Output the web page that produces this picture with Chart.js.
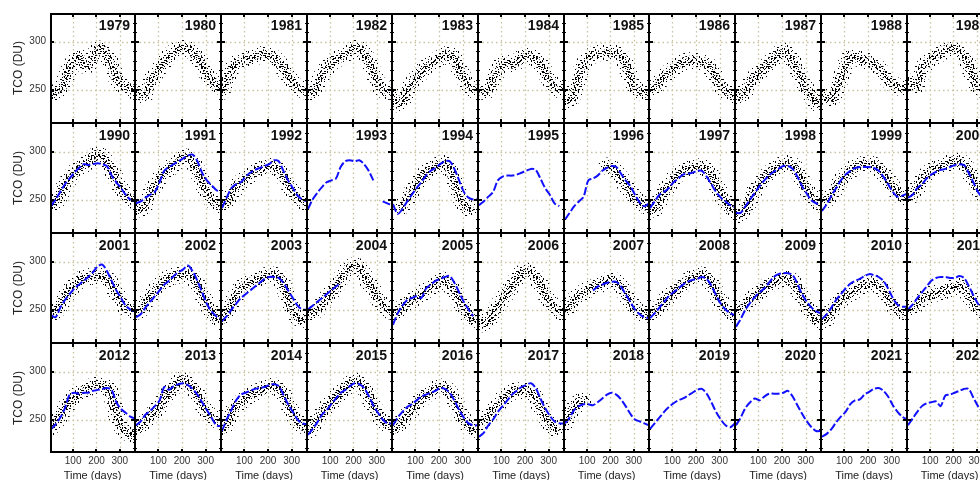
<!DOCTYPE html>
<html>
<head>
<meta charset="utf-8">
<script src="https://cdn.jsdelivr.net/npm/chart.js@4"></script>
<style>
  html, body { margin: 0; padding: 0; background: #fff; overflow: hidden; }
  body { width: 980px; height: 480px; position: relative; }
  canvas { position: absolute; }
</style>
</head>
<body>
<script>
// values, one sample every 20 days
const dayOfYear = [5, 25, 45, 65, 85, 105, 125, 145, 165, 185, 205, 225, 245, 265, 285, 305, 325, 345, 365];

const years = [
    1979, 1980, 1981, 1982, 1983, 1984, 1985, 1986, 1987, 1988, 1989,
    1990, 1991, 1992, 1993, 1994, 1995, 1996, 1997, 1998, 1999, 2000,
    2001, 2002, 2003, 2004, 2005, 2006, 2007, 2008, 2009, 2010, 2011,
    2012, 2013, 2014, 2015, 2016, 2017, 2018, 2019, 2020, 2021, 2022
];

const xTicks = [100, 200, 300];
const yTicks = [250, 300];

// black dots (daily ground measurements), null = no data that year
const groundTCO = [
    [245,247,250,260,272,280,284,276,276,282,292,291,285,276,262,256,253,251,248], // 1979
    [250,244,245,257,266,273,279,285,289,292,293,292,290,283,276,267,259,255,253], // 1980
    [248,260,272,277,279,281,283,284,286,287,286,283,278,272,264,257,252,250,248], // 1981
    [250,247,255,265,272,278,281,284,287,290,293,292,287,280,268,256,250,248,250], // 1982
    [243,235,238,248,256,262,268,273,277,280,283,286,287,282,272,262,254,250,250], // 1983
    [250,248,250,260,270,277,278,277,279,283,286,285,282,276,268,260,252,250,251], // 1984
    [240,238,248,262,276,283,286,288,289,289,289,288,285,276,262,252,248,247,246], // 1985
    [250,252,258,263,268,272,276,278,280,280,279,279,277,271,262,254,249,246,244], // 1986
    [245,243,248,256,263,268,272,277,282,287,290,288,280,270,260,250,244,236,240], // 1987
    [244,242,240,250,262,276,284,284,282,280,279,276,272,266,260,256,253,252,254], // 1988
    [258,256,254,270,278,282,285,288,291,292,292,290,285,275,262,253,250,250,252], // 1989
    [245,247,255,265,272,278,283,286,290,294,297,294,288,280,271,262,254,250,250], // 1990
    [244,240,245,255,265,273,278,282,287,291,294,294,290,280,268,258,250,246,244], // 1991
    [245,248,255,262,268,272,276,280,282,283,285,284,280,274,266,258,252,248,246], // 1992
    null,                                                                          // 1993
    [null,null,243,250,258,266,272,278,281,284,287,288,283,268,255,245,240,null,null], // 1994
    null,                                                                          // 1995
    [null,null,null,null,null,null,null,null,null,285,283,278,272,265,258,251,247,244,244], // 1996
    [244,240,248,258,265,272,277,280,282,283,284,284,281,275,266,256,248,242,238], // 1997
    [237,234,240,250,260,266,272,277,281,284,287,288,286,280,270,261,253,248,245], // 1998
    [250,250,255,262,270,275,280,284,286,287,287,286,283,277,270,263,257,253,252], // 1999
    [255,255,262,270,276,280,283,285,287,289,290,290,287,280,270,262,255,252,250], // 2000
    [248,248,255,263,270,276,280,283,284,285,285,284,282,276,267,259,252,250,250], // 2001
    [248,250,258,264,270,275,280,283,285,286,287,287,284,276,266,256,248,242,240], // 2002
    [240,248,257,265,272,276,278,280,282,285,286,286,284,275,262,250,242,240,240], // 2003
    [245,248,250,255,262,268,274,282,289,294,296,293,286,278,270,262,255,250,248], // 2004
    [246,248,252,256,260,263,266,270,273,276,280,280,276,268,260,252,244,240,240], // 2005
    [240,235,238,246,254,261,268,275,282,288,290,289,284,276,266,258,252,248,246], // 2006
    [250,253,260,265,268,271,273,275,278,280,281,279,274,266,258,251,247,245,245], // 2007
    [247,248,252,258,264,268,272,276,280,283,285,286,284,277,268,259,251,246,244], // 2008
    [250,252,256,260,264,268,272,276,279,281,282,282,279,272,263,254,246,240,238], // 2009
    [238,240,248,254,260,264,267,270,273,276,278,278,275,270,262,255,250,247,247], // 2010
    [250,252,256,260,264,266,267,268,270,272,273,274,272,265,258,252,248,246,246], // 2011
    [242,247,254,262,268,273,277,280,283,285,286,285,284,275,255,244,238,235,234], // 2012
    [243,242,247,253,258,264,271,278,284,290,291,288,283,276,266,258,252,250,248], // 2013
    [240,246,258,264,268,272,276,278,280,282,284,285,283,276,266,257,248,244,242], // 2014
    [238,242,250,256,263,268,273,278,283,287,290,289,284,274,264,256,249,245,244], // 2015
    [240,243,248,254,260,266,271,276,279,282,284,283,278,270,260,250,244,240,240], // 2016
    [246,250,254,260,266,272,276,279,280,280,280,278,272,262,254,246,240,null,null], // 2017
    [246,255,262,268,270,null,null,null,null,null,null,null,null,null,null,null,null,null,null], // 2018
    null, null, null, null                                                         // 2019-2022
];

// blue line (satellite overpass), null = no data
const satelliteTCO = [
    null, null, null, null, null, null, null, null, null, null, null,              // 1979-1989
    [243,250,258,266,272,278,283,287,286,287,288,287,285,275,268,262,255,250,249], // 1990
    [246,248,252,255,258,268,280,284,287,290,293,296,297,290,278,270,265,260,257], // 1991
    [241,252,262,266,268,274,278,281,283,285,287,291,290,280,270,262,254,250,248], // 1992
    [240,250,257,263,268,270,272,284,290,291,290,291,287,280,270,null,248,246,244], // 1993
    [245,235,240,248,255,262,268,275,280,283,287,290,290,282,270,258,252,250,250], // 1994
    [244,248,253,258,270,274,275,275,276,278,280,282,281,272,262,255,246,243,null], // 1995
    [229,236,243,248,253,270,272,275,280,283,285,284,277,270,264,255,247,243,246], // 1996
    [241,248,255,258,262,268,272,276,277,278,280,280,274,266,258,252,248,244,242], // 1997
    [236,236,243,250,257,264,270,275,279,282,285,285,282,274,264,256,249,246,243], // 1998
    [238,245,254,262,270,276,280,283,284,284,284,283,280,274,266,258,253,254,256], // 1999
    [252,255,262,266,272,276,279,281,282,284,286,287,286,278,268,258,252,250,250], // 2000
    [244,242,252,260,266,272,276,280,284,289,295,297,290,280,270,262,254,250,248], // 2001
    [242,245,252,258,264,270,276,280,285,289,292,296,290,280,268,256,248,243,240], // 2002
    [238,243,250,256,262,266,270,274,278,282,284,284,283,278,270,262,254,250,250], // 2003
    [250,254,258,262,266,270,274,278,null,null,null,null,null,null,null,null,null,null,null], // 2004
    [234,246,254,260,262,264,262,272,276,280,282,284,285,278,268,258,250,243,null], // 2005
    null,                                                                          // 2006
    [null,null,null,null,null,null,270,274,276,278,279,279,274,266,258,250,245,242,241], // 2007
    [241,246,252,258,264,268,272,276,279,281,282,284,282,275,265,256,250,246,244], // 2008
    [232,240,250,257,263,268,272,278,284,287,288,288,286,277,266,258,252,248,246], // 2009
    [240,245,252,260,266,272,277,280,282,285,287,286,284,280,272,262,255,253,253], // 2010
    [250,255,262,268,274,280,283,284,284,283,283,285,283,275,265,256,250,248,248], // 2011
    [240,245,252,262,276,278,277,278,278,280,281,282,283,281,268,261,257,253,251], // 2012
    [244,248,255,259,264,270,284,281,285,287,288,286,282,276,268,260,252,244,243], // 2013
    [238,250,260,270,276,278,280,282,283,284,286,287,285,276,266,258,250,246,245], // 2014
    [234,240,247,255,260,266,272,278,281,285,288,287,283,275,265,257,250,246,246], // 2015
    [244,252,258,263,266,270,274,276,278,280,283,282,278,270,260,252,246,244,244], // 2016
    [232,236,244,250,258,264,270,276,280,284,286,288,283,272,262,254,248,246,246], // 2017
    [246,252,260,264,266,266,265,268,272,276,278,276,271,264,256,250,248,246,244], // 2018
    [240,246,252,258,263,267,270,272,275,278,281,282,277,268,258,250,244,242,246], // 2019
    [244,252,262,268,272,270,274,277,277,277,278,280,274,265,256,248,242,238,238], // 2020
    [232,235,240,247,253,258,266,270,271,276,279,282,283,280,274,265,258,253,250], // 2021
    [244,251,258,264,267,268,269,264,275,276,278,280,282,282,273,264,258,254,252]  // 2022
];

Chart.defaults.font.family = '"Liberation Sans", Arial, Helvetica, sans-serif';

// hand placed dot tiles so the thick black stroke reads as a cloud of daily points
function dotPattern(size, dots) {
    const c = document.createElement('canvas');
    c.width = size;
    c.height = size;
    const g = c.getContext('2d');
    g.fillStyle = '#000';
    dots.forEach(([x, y, w, h]) => g.fillRect(x, y, w || 1, h || 1));
    return g.createPattern(c, 'repeat');
}
const outerDots = dotPattern(13, [
    [1, 0], [8, 1, 2, 1], [4, 3], [11, 4], [0, 6, 1, 2], [7, 6],
    [3, 8, 2, 1], [10, 9], [5, 11], [12, 12], [1, 12]
]);
const middleDots = dotPattern(11, [
    [0, 0, 2, 1], [6, 0], [3, 2], [9, 3, 1, 2], [1, 5], [6, 5, 2, 1],
    [4, 7], [10, 7], [0, 9, 1, 2], [7, 9], [3, 10, 2, 1]
]);
const coreDots = dotPattern(9, [
    [0, 0, 2, 1], [4, 0], [7, 1], [2, 2], [5, 3, 1, 2], [0, 4], [8, 4],
    [3, 5], [6, 6, 2, 1], [1, 7], [4, 8, 2, 1]
]);

function toPoints(values) {
    return dayOfYear.map((d, i) => ({ x: d, y: values[i] }));
}

function groundBand(values, pattern, width) {
    return {
        data: toPoints(values),
        borderColor: pattern,
        borderWidth: width,
        borderJoinStyle: 'round',
        borderCapStyle: 'round',
        tension: 0.35,
        pointRadius: 0,
        clip: 0
    };
}

// grid, frame, inward ticks and the year of each panel
const panelDecor = {
    id: 'panelDecor',
    beforeDatasetsDraw(chart) {
        const { ctx, chartArea: a, scales: { x, y } } = chart;
        ctx.save();
        ctx.strokeStyle = '#c9c2a0';
        ctx.lineWidth = 1.3;
        ctx.setLineDash([1.5, 3]);
        xTicks.forEach(v => {
            const px = Math.round(x.getPixelForValue(v)) + 0.5;
            ctx.beginPath();
            ctx.moveTo(px, a.top);
            ctx.lineTo(px, a.bottom);
            ctx.stroke();
        });
        yTicks.forEach(v => {
            const py = Math.round(y.getPixelForValue(v)) + 0.5;
            ctx.beginPath();
            ctx.moveTo(a.left, py);
            ctx.lineTo(a.right, py);
            ctx.stroke();
        });
        ctx.restore();
    },
    afterDatasetsDraw(chart, args, opts) {
        const { ctx, chartArea: a, scales: { x, y } } = chart;
        const w = a.right - a.left, h = a.bottom - a.top;
        ctx.save();
        ctx.fillStyle = '#000';
        // frame (neighbouring panels share the edge)
        ctx.fillRect(a.left, a.top, opts.col === 0 ? 2 : 1, h);
        ctx.fillRect(a.right - 1, a.top, 1, h);
        ctx.fillRect(a.left, a.top, w, opts.row === 0 ? 2 : 1);
        ctx.fillRect(a.left, a.bottom - (opts.row === 3 ? 2 : 1), w, opts.row === 3 ? 2 : 1);
        // ticks pointing inwards
        xTicks.forEach(v => {
            const px = Math.round(x.getPixelForValue(v));
            ctx.fillRect(px - 1, a.top, 2, 4);
            ctx.fillRect(px - 1, a.bottom - 4, 2, 4);
        });
        for (let v = 220; v <= 330; v += 10) {
            const py = Math.round(y.getPixelForValue(v));
            if (yTicks.includes(v)) {
                ctx.fillRect(a.left, py - 1, 4, 2);
                ctx.fillRect(a.right - 4, py - 1, 4, 2);
            } else {
                ctx.fillRect(a.left, py, 2, 1);
                ctx.fillRect(a.right - 2, py, 2, 1);
            }
        }
        // year label
        ctx.font = 'bold 14px "Liberation Sans", Arial, sans-serif';
        ctx.textAlign = 'right';
        ctx.textBaseline = 'alphabetic';
        ctx.fillStyle = '#111';
        ctx.fillText(String(opts.year), a.right - 5, a.top + 17);
        ctx.restore();
    }
};
Chart.register(panelDecor);

const COLS = 11;
const PLOT_LEFT = 50;
const COL_W = 85.7;
const ROW_TOP = 13;
const ROW_H = 110;
const Y_AXIS_W = 50;
const X_AXIS_H = 30;

years.forEach((year, i) => {
    const row = Math.floor(i / COLS);
    const col = i % COLS;
    const left = Math.floor(PLOT_LEFT + col * COL_W);
    const right = Math.floor(PLOT_LEFT + (col + 1) * COL_W);
    const showY = col === 0;
    const showX = row === 3;

    const canvas = document.createElement('canvas');
    canvas.width = (right - left) + (showY ? Y_AXIS_W : 0);
    canvas.height = ROW_H + (showX ? X_AXIS_H : 0);
    canvas.style.left = (showY ? left - Y_AXIS_W : left) + 'px';
    canvas.style.top = (ROW_TOP + row * ROW_H) + 'px';
    document.body.appendChild(canvas);

    // first dataset is painted last, so the blue line sits on top of the dots
    const datasets = [];
    if (satelliteTCO[i]) {
        datasets.push({
            data: toPoints(satelliteTCO[i]),
            borderColor: '#1010ff',
            borderWidth: 2,
            borderDash: [8, 2.5],
            tension: 0.3,
            pointRadius: 0,
            clip: 0
        });
    }
    if (groundTCO[i]) {
        datasets.push(groundBand(groundTCO[i], coreDots, 5));
        datasets.push(groundBand(groundTCO[i], middleDots, 10));
        datasets.push(groundBand(groundTCO[i], outerDots, 17));
    }

    new Chart(canvas, {
        type: 'line',
        data: { datasets },
        options: {
            responsive: false,
            animation: false,
            devicePixelRatio: 1,
            layout: { padding: 0 },
            plugins: {
                legend: { display: false },
                tooltip: { enabled: false },
                panelDecor: { year, row, col }
            },
            scales: {
                x: {
                    type: 'linear',
                    min: 1,
                    max: 365,
                    display: showX,
                    grid: { display: false, drawTicks: false },
                    border: { display: false },
                    afterBuildTicks: s => { s.ticks = xTicks.map(v => ({ value: v })); },
                    afterFit: showX ? s => { s.height = X_AXIS_H; s.paddingLeft = 0; s.paddingRight = 0; } : undefined,
                    ticks: { font: { size: 10 }, color: '#333', padding: 2, maxRotation: 0, autoSkip: false },
                    title: {
                        display: true,
                        text: 'Time (days)',
                        font: { size: 11 },
                        color: '#222',
                        padding: { top: 0, bottom: 0 }
                    }
                },
                y: {
                    type: 'linear',
                    min: 215,
                    max: 330,
                    display: showY,
                    grid: { display: false, drawTicks: false },
                    border: { display: false },
                    afterBuildTicks: s => { s.ticks = yTicks.map(v => ({ value: v })); },
                    afterFit: showY ? s => { s.width = Y_AXIS_W; s.paddingTop = 0; s.paddingBottom = 0; } : undefined,
                    ticks: { font: { size: 10 }, color: '#333', padding: 4 },
                    title: {
                        display: true,
                        text: 'TCO (DU)',
                        font: { size: 12 },
                        color: '#222',
                        padding: { top: 11, bottom: 0 }
                    }
                }
            }
        }
    });
});
</script>
</body>
</html>
